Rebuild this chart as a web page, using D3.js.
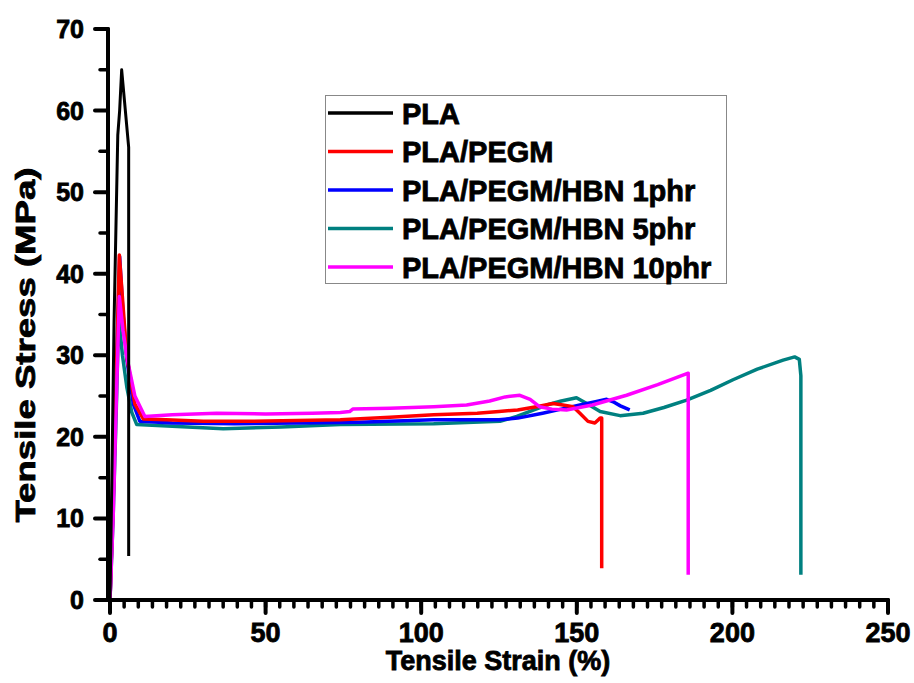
<!DOCTYPE html>
<html>
<head>
<meta charset="utf-8">
<script src="https://cdn.jsdelivr.net/npm/d3@7"></script>
<style>
  body { margin: 0; background: #fff; }
  svg { display: block; font-family: "Liberation Sans", Arial, sans-serif; font-weight: bold; }
  svg text { stroke: #000; stroke-width: 0.8px; fill: #000; }
</style>
</head>
<body>
<svg id="chart" width="914" height="683"></svg>
<script>
// series data (strain %, stress MPa)
const plaStrain = [0, 0.6, 1.3, 2.5, 3.1, 3.75, 6.0, 6.0];
const plaStress = [0, 15, 34, 57, 60, 65, 55.5, 5.4];

const pegmStrain = [0, 1, 2, 3.0, 4.2, 5.4, 8, 10.7, 18, 30, 45, 60, 74, 90, 104, 118, 125, 131, 137, 142.4, 145.5, 148.8, 151, 153.6, 155.8, 157.5, 158, 158];
const pegmStress = [0, 12, 27, 42.3, 36, 29.8, 24, 22.2, 22.1, 21.9, 21.9, 22.0, 22.1, 22.4, 22.7, 22.9, 23.1, 23.3, 23.7, 24.1, 23.9, 23.7, 22.9, 21.9, 21.7, 22.3, 22.3, 3.9];

const hbn1Strain = [0, 1, 2, 3.1, 4.2, 5.4, 7.5, 9.6, 20, 40, 60, 80, 104, 125, 131, 139, 145, 151, 156, 159.6, 161.7, 164, 167];
const hbn1Stress = [0, 12, 27, 42.1, 35, 29.5, 24, 21.9, 21.7, 21.6, 21.7, 21.8, 22.1, 22.1, 22.3, 22.9, 23.4, 23.9, 24.3, 24.6, 24.3, 23.8, 23.3];

const hbn5Strain = [0, 1, 2, 2.8, 4, 5.4, 7, 8.6, 20, 36.4, 55, 74, 104, 125.3, 130.7, 140.3, 145, 149.9, 153.2, 157.5, 163.9, 171.3, 178, 185.3, 193, 200.2, 208, 216.3, 220, 221.5, 222, 222];
const hbn5Stress = [0, 10, 23, 34.7, 30, 26.1, 23, 21.5, 21.3, 21.0, 21.2, 21.5, 21.6, 21.9, 22.5, 23.9, 24.4, 24.8, 24.1, 23.1, 22.6, 22.9, 23.6, 24.5, 25.7, 27.0, 28.3, 29.4, 29.8, 29.5, 27.5, 3.1];

const hbn10Strain = [0, 1, 2, 3.0, 4.2, 5.4, 8, 11.2, 20, 34.3, 50, 65, 74, 77, 78, 90, 104, 114.6, 122, 127, 131.7, 135, 138, 142, 146.7, 155, 166, 176, 185.8, 185.8];
const hbn10Stress = [0, 10, 24, 37.2, 33, 29.8, 25, 22.5, 22.7, 22.9, 22.8, 22.9, 23.0, 23.1, 23.4, 23.5, 23.7, 23.9, 24.4, 24.9, 25.1, 24.6, 23.7, 23.4, 23.3, 23.9, 25.1, 26.4, 27.8, 3.1];

const seriesNames = ["PLA", "PLA/PEGM", "PLA/PEGM/HBN 1phr", "PLA/PEGM/HBN 5phr", "PLA/PEGM/HBN 10phr"];
const seriesColors = ["#000000", "#ff0000", "#0000ff", "#008080", "#ff00ff"];
const xTicks = [0, 50, 100, 150, 200, 250];
const yTicks = [0, 10, 20, 30, 40, 50, 60, 70];

const series = [
  [plaStrain, plaStress],
  [pegmStrain, pegmStress],
  [hbn1Strain, hbn1Stress],
  [hbn5Strain, hbn5Stress],
  [hbn10Strain, hbn10Stress]
].map(([xs, ys], i) => ({ name: seriesNames[i], color: seriesColors[i], pts: xs.map((v, j) => [v, ys[j]]) }));

const svg = d3.select("#chart");

const x = d3.scaleLinear().domain([0, 250]).range([110, 888]);
const y = d3.scaleLinear().domain([0, 70]).range([600, 29]);
const x0 = 108, y0 = 600;   // axis line positions

// minor ticks (Origin style: 10 minor between x majors, 1 between y majors)
const xMinor = d3.range(0, 250.001, 50 / 11);
const yMinor = d3.range(5, 70, 10);

// curves, PLA drawn last so it sits on top
const line = d3.line().x(d => x(d[0])).y(d => y(d[1]));
const drawOrder = [3, 2, 1, 4, 0];
svg.append("g").selectAll("path")
  .data(drawOrder.map(i => series[i]))
  .enter().append("path")
    .attr("d", d => line(d.pts))
    .attr("fill", "none")
    .attr("stroke", d => d.color)
    .attr("stroke-width", d => d.name === "PLA" ? 3 : 3.5)
    .attr("stroke-linejoin", "round");

// axes drawn by hand so the Origin look (thick lines, round caps) is kept
const axes = svg.append("g")
  .attr("stroke", "#000").attr("stroke-linecap", "round");

axes.append("line").attr("x1", x0).attr("x2", 888).attr("y1", y0).attr("y2", y0).attr("stroke-width", 4);
axes.append("line").attr("x1", x0).attr("x2", x0).attr("y1", 29).attr("y2", y0).attr("stroke-width", 4);

axes.selectAll("line.xminor").data(xMinor).enter().append("line")
  .attr("class", "xminor")
  .attr("x1", d => x(d)).attr("x2", d => x(d))
  .attr("y1", y0).attr("y2", y0 + 7).attr("stroke-width", 3.5);
axes.selectAll("line.xmajor").data(xTicks).enter().append("line")
  .attr("class", "xmajor")
  .attr("x1", d => x(d)).attr("x2", d => x(d))
  .attr("y1", y0).attr("y2", y0 + 13).attr("stroke-width", 4);
axes.selectAll("line.yminor").data(yMinor).enter().append("line")
  .attr("class", "yminor")
  .attr("x1", x0 - 8).attr("x2", x0)
  .attr("y1", d => y(d)).attr("y2", d => y(d)).attr("stroke-width", 3.5);
axes.selectAll("line.ymajor").data(yTicks).enter().append("line")
  .attr("class", "ymajor")
  .attr("x1", x0 - 13).attr("x2", x0)
  .attr("y1", d => y(d)).attr("y2", d => y(d)).attr("stroke-width", 4);

svg.append("g").selectAll("text").data(xTicks).enter().append("text")
  .attr("x", d => x(d)).attr("y", 642)
  .attr("text-anchor", "middle")
  .attr("font-size", 27)
  .text(d => d);
svg.append("g").selectAll("text").data(yTicks).enter().append("text")
  .attr("x", 84).attr("y", d => y(d) + 9)
  .attr("text-anchor", "end")
  .attr("font-size", 25)
  .text(d => d);

// axis titles
svg.append("text")
  .attr("x", 498).attr("y", 670)
  .attr("text-anchor", "middle")
  .attr("font-size", 27)
  .text("Tensile Strain (%)");

svg.append("text")
  .attr("transform", "translate(35,345) rotate(-90)")
  .attr("text-anchor", "middle")
  .attr("font-size", 28)
  .attr("textLength", 355)
  .attr("lengthAdjust", "spacingAndGlyphs")
  .text("Tensile Stress (MPa)");

// legend
const legend = svg.append("g");
legend.append("rect")
  .attr("x", 325.5).attr("y", 95.5).attr("width", 401).attr("height", 188)
  .attr("fill", "#fff").attr("stroke", "#888").attr("stroke-width", 1);
const rows = legend.selectAll("g.row").data(series).enter().append("g")
  .attr("class", "row")
  .attr("transform", (d, i) => `translate(0,${113 + i * 38.5})`);
rows.append("line")
  .attr("x1", 328).attr("x2", 393)
  .attr("stroke", d => d.color).attr("stroke-width", 3.5);
rows.append("text")
  .attr("x", 402).attr("y", 10.5)
  .attr("font-size", 29)
  .text(d => d.name);
</script>
</body>
</html>
